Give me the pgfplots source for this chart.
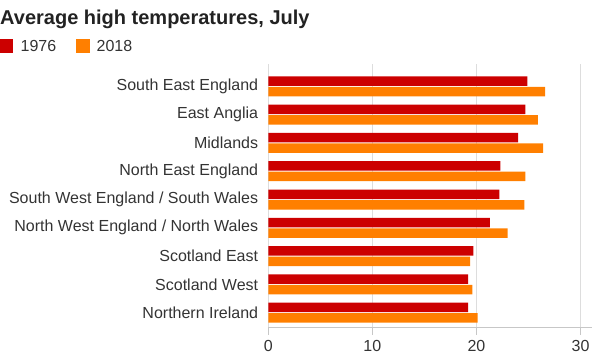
\documentclass[border=0pt]{standalone}
\usepackage{fontspec}
\setmainfont{Liberation Sans}
\usepackage{pgfplots}
\pgfplotsset{compat=1.18}
\definecolor{cred}{RGB}{204,0,0}
\definecolor{corange}{RGB}{255,127,0}
\definecolor{labelgray}{RGB}{51,51,51}
\definecolor{titlegray}{RGB}{34,34,34}
\definecolor{gridgray}{RGB}{221,221,221}
\begin{document}
\begin{tikzpicture}
\useasboundingbox (0,0) rectangle (600pt,360pt);
\node[anchor=base west, inner sep=0pt, text=titlegray, font=\fontsize{20}{23}\selectfont\bfseries] at (0pt,336pt) {Average high temperatures, July};
\fill[cred] (0pt,307.5pt) rectangle (13.3pt,320.8pt);
\node[anchor=west, inner sep=0pt, text=labelgray, font=\fontsize{16}{19}\selectfont] at (20.5pt,314pt) {1976};
\fill[corange] (76pt,307.5pt) rectangle (89.5pt,320.8pt);
\node[anchor=west, inner sep=0pt, text=labelgray, font=\fontsize{16}{19}\selectfont] at (96.5pt,314pt) {2018};
\begin{axis}[
  at={(268.3pt,33.3pt)}, anchor=south west,
  scale only axis, width=323.7pt, height=263pt,
  xmin=0, xmax=31.1, ymin=-0.495, ymax=8.8,
  xbar, bar width=9.5pt,
  axis x line*=bottom, axis y line*=left,
  y axis line style={draw=none},
  x axis line style={draw=gridgray!90!black, -},
  xtick={0,10,20,30},
  xmajorgrids, grid style={gridgray, line width=0.8pt},
  tick align=outside, major tick length=8pt,
  xtick style={draw=gridgray!90!black, line width=0.8pt},
  ytick={0,1,2,3,4,5,6,7,8},
  ytick style={draw=none},
  yticklabels={Northern Ireland, Scotland West, Scotland East, North West England / North Wales, South West England / South Wales, North East England, Midlands, East Anglia, South East England},
  tick label style={inner sep=0pt, text=labelgray, font=\fontsize{16}{19}\selectfont},
  yticklabel style={xshift=-2pt},
  xticklabel style={yshift=-5pt},
  /pgf/number format/assume math mode=true,
]
\addplot[fill=cred, draw=none, bar shift=5.25pt] coordinates {
(19.2,0) (19.2,1) (19.7,2) (21.3,3) (22.2,4) (22.3,5) (24.0,6) (24.7,7) (24.9,8)};
\addplot[fill=corange, draw=none, bar shift=-5.25pt] coordinates {
(20.1,0) (19.6,1) (19.4,2) (23.0,3) (24.6,4) (24.7,5) (26.4,6) (25.9,7) (26.6,8)};
\end{axis}
\end{tikzpicture}
\end{document}
